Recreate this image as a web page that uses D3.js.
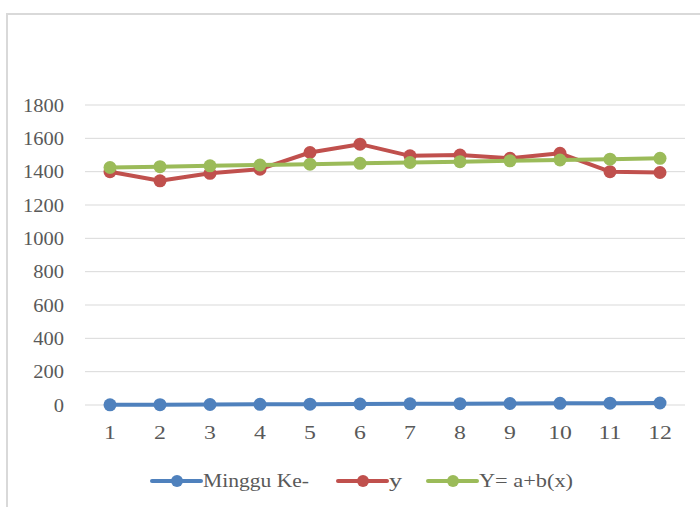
<!DOCTYPE html>
<html>
<head>
<meta charset="utf-8">
<script src="https://cdn.jsdelivr.net/npm/d3@7"></script>
<style>
  html, body { margin: 0; padding: 0; background: #fff; }
  svg { display: block; }
</style>
</head>
<body>
<svg id="chart" width="700" height="507"></svg>
<script>
// Week numbers (categories) and the three series
const weeks = ["1","2","3","4","5","6","7","8","9","10","11","12"];
const mingguKe = [1, 2, 3, 4, 5, 6, 7, 8, 9, 10, 11, 12];
const yActual = [1400, 1345, 1390, 1415, 1515, 1565, 1495, 1500, 1480, 1510, 1400, 1395];
const yTrend = [1425, 1430, 1435, 1440, 1445, 1450, 1455, 1460, 1465, 1470, 1475, 1480];
const yTicks = [0, 200, 400, 600, 800, 1000, 1200, 1400, 1600, 1800];

const seriesNames = ["Minggu Ke-", "y", "Y= a+b(x)"];
const seriesColors = ["#4F81BD", "#C0504D", "#9BBB59"];
const seriesValues = [mingguKe, yActual, yTrend];

const svg = d3.select("#chart");
const font = "'Liberation Serif', 'Times New Roman', serif";
const textColor = "#595959";

// Chart-area frame (top and left edges)
svg.append("path")
  .attr("d", "M7,507 V14 H700")
  .attr("fill", "none")
  .attr("stroke", "#d9d9d9")
  .attr("stroke-width", 2);

const plot = { left: 85, right: 685, top: 105, bottom: 405 };

const x = d3.scaleBand().domain(weeks).range([plot.left, plot.right]);
const y = d3.scaleLinear().domain([0, 1800]).range([plot.bottom, plot.top]);

// Horizontal gridlines
svg.append("g")
  .selectAll("line")
  .data(yTicks)
  .join("line")
  .attr("x1", plot.left).attr("x2", plot.right)
  .attr("y1", d => y(d)).attr("y2", d => y(d))
  .attr("stroke", "#d9d9d9")
  .attr("stroke-width", 1);

// Y axis labels (slightly widened serif digits)
const yAxis = d3.axisLeft(y).tickValues(yTicks).tickSize(0).tickFormat(d3.format("d"));
const gy = svg.append("g").attr("transform", `translate(${plot.left},0)`).call(yAxis);
gy.select(".domain").remove();
gy.selectAll("text")
  .attr("x", 0)
  .attr("dy", "0.34em")
  .attr("transform", "translate(-21,0) scale(1.14,1)")
  .style("font-family", font).style("font-size", "18px").attr("fill", textColor);

// X axis labels
const xAxis = d3.axisBottom(x).tickSize(0);
const gx = svg.append("g").attr("transform", `translate(0,${plot.bottom})`).call(xAxis);
gx.select(".domain").remove();
gx.selectAll("text")
  .attr("y", 0)
  .attr("dy", "0.34em")
  .attr("transform", "translate(0,28) scale(1.25,1)")
  .style("font-family", font).style("font-size", "19px").attr("fill", textColor);

const cx = d => x(d) + x.bandwidth() / 2;
const line = d3.line().x((d, i) => cx(weeks[i])).y(d => y(d));

// Series lines with circle markers
seriesValues.forEach((vals, s) => {
  const g = svg.append("g");
  g.append("path")
    .datum(vals)
    .attr("d", line)
    .attr("fill", "none")
    .attr("stroke", seriesColors[s])
    .attr("stroke-width", 4)
    .attr("stroke-linejoin", "round");
  g.selectAll("circle")
    .data(vals)
    .join("circle")
    .attr("cx", (d, i) => cx(weeks[i]))
    .attr("cy", d => y(d))
    .attr("r", 6.5)
    .attr("fill", seriesColors[s]);
});

// Legend
const legendY = 481;
const legendX = [152, 338, 428];
const legendTextWidth = [106, 13, 94];
const legend = svg.append("g");
seriesNames.forEach((name, s) => {
  const g = legend.append("g").attr("transform", `translate(${legendX[s]},${legendY})`);
  g.append("line")
    .attr("x1", 0).attr("x2", 49).attr("y1", 0).attr("y2", 0)
    .attr("stroke", seriesColors[s]).attr("stroke-width", 4).attr("stroke-linecap", "round");
  g.append("circle").attr("cx", 25).attr("cy", 0).attr("r", 6).attr("fill", seriesColors[s]);
  g.append("text")
    .attr("x", 51).attr("y", 0).attr("dy", "0.33em")
    .attr("textLength", legendTextWidth[s])
    .attr("lengthAdjust", "spacingAndGlyphs")
    .style("font-family", font).style("font-size", "18px").attr("fill", textColor)
    .text(name);
});
</script>
</body>
</html>
